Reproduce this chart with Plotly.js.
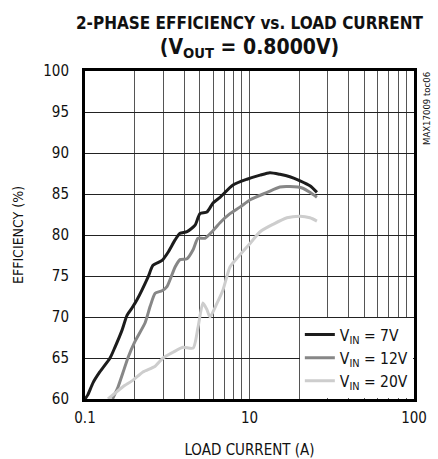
<!DOCTYPE html>
<html>
<head>
<meta charset="utf-8">
<script src="https://cdn.plot.ly/plotly-3.0.1.min.js"></script>
<style>html,body{margin:0;padding:0;background:#fff;}#chart{width:438px;height:459px;}</style>
</head>
<body>
<div id="chart"></div>
<script>
// Tick labels and positions (log axis)
const xTickVals = [1,10,100];
const xTickText = ['0.1','10','100'];
const xMinorVals = [2,3,4,5,6,7,8,9,20,30,40,50,60,70,80,90];
const yTickVals = [60,65,70,75,80,85,90,95,100];

// Series names
const seriesNames = ['V<sub>IN</sub> = 7V', 'V<sub>IN</sub> = 12V', 'V<sub>IN</sub> = 20V'];

// VIN = 7V
const v7x = [1.0,1.04,1.12,1.23,1.42,1.52,1.68,1.80,1.93,2.07,2.42,2.59,2.94,3.2,3.53,3.78,4.17,4.67,5.0,5.51,6.0,6.62,7.94,9.66,11.6,13.3,15.3,17.6,20.3,23.3,25.7];
const v7y = [60.0,60.5,62.0,63.3,65.0,66.3,68.4,70.2,71.1,72.1,74.9,76.3,76.9,77.9,79.4,80.2,80.4,81.2,82.6,82.8,83.9,84.6,86.1,86.8,87.3,87.6,87.4,87.1,86.6,86.0,85.2];

// VIN = 12V
const v12x = [1.47,1.59,1.70,1.83,2.01,2.32,2.49,2.67,2.94,3.15,3.53,3.78,4.17,4.54,4.86,5.36,5.92,6.62,7.61,8.75,10.1,12.8,15.3,17.6,21.1,23.3,25.7];
const v12y = [60.0,61.5,63.2,65.1,67.0,69.3,71.3,72.9,73.2,73.7,76.1,77.0,77.1,78.2,79.6,79.6,80.4,81.5,82.6,83.4,84.3,85.2,85.85,85.9,85.7,85.2,84.6];

// VIN = 20V
const v20x = [1.38,1.52,1.70,1.96,2.25,2.67,2.98,3.43,3.94,4.54,4.86,5.21,5.51,5.75,6.35,6.9,7.61,8.51,10.1,11.6,13.9,16.9,20.3,23.3,25.7];
const v20y = [60.0,60.7,61.5,62.3,63.3,64.0,65.0,65.7,66.3,66.2,68.7,71.7,70.9,70.0,71.7,73.3,76.1,77.3,79.0,80.4,81.3,82.1,82.3,82.1,81.7];

const narrow = '"Liberation Sans Narrow", "DejaVu Sans Condensed", Arial, sans-serif';
const colors = ['#1c1c1c', '#878787', '#cdcdcd'];

const mk = (x, y, i) => ({
  x: x, y: y, type: 'scatter', mode: 'lines', name: seriesNames[i],
  line: {color: colors[i], width: 3, shape: 'spline', smoothing: 0.6}
});

const data = [mk(v7x, v7y, 0), mk(v12x, v12y, 1), mk(v20x, v20y, 2)];

const layout = {
  width: 438, height: 459,
  margin: {l: 85, r: 24, t: 71, b: 60},
  paper_bgcolor: '#fff', plot_bgcolor: '#fff',
  font: {family: narrow, color: '#111', size: 15},
  title: {
    text: '<b><span style="font-size:17px">2-PHASE EFFICIENCY vs. LOAD CURRENT</span><br><span style="font-size:21px">(V<sub>OUT</sub> = 0.8000V)</span></b>',
    font: {family: narrow, size: 19, color: '#111'},
    xref: 'paper', x: 0.5, xanchor: 'center',
    yref: 'container', y: 0.937, yanchor: 'top'
  },
  xaxis: {
    type: 'log', range: [0, 2],
    tickmode: 'array', tickvals: xTickVals, ticktext: xTickText,
    showgrid: true, gridcolor: '#555', gridwidth: 1,
    minor: {tickmode: 'array', tickvals: xMinorVals, showgrid: true, gridcolor: '#555', gridwidth: 1, ticks: ''},
    showline: true, linecolor: '#000', linewidth: 3, mirror: true,
    ticks: '', zeroline: false, ticklabelstandoff: 3,
    tickfont: {family: narrow, size: 15, color: '#111'},
    title: {text: 'LOAD CURRENT (A)', font: {family: narrow, size: 15, color: '#111'}, standoff: 23}
  },
  yaxis: {
    range: [60, 100], tickmode: 'array', tickvals: yTickVals,
    showgrid: true, gridcolor: '#222', gridwidth: 1,
    showline: true, linecolor: '#000', linewidth: 3, mirror: true,
    ticks: '', zeroline: false, ticklabelstandoff: 10,
    tickfont: {family: narrow, size: 15, color: '#111'},
    title: {text: 'EFFICIENCY (%)', font: {family: narrow, size: 14, color: '#111'}, standoff: 17}
  },
  showlegend: true,
  legend: {
    x: 0.653, xanchor: 'left', y: 0.247, yanchor: 'top',
    bgcolor: '#fff', borderwidth: 0,
    font: {family: narrow, size: 15.5, color: '#111'},
    itemwidth: 30, tracegroupgap: 0
  },
  annotations: [{
    text: 'MAX17009 toc06', xref: 'paper', yref: 'paper',
    x: 1.0, xanchor: 'left', xshift: 5, y: 1.0, yanchor: 'top', yshift: 1,
    textangle: -90, showarrow: false,
    font: {family: narrow, size: 9.5, color: '#111'}
  }]
};

Plotly.newPlot('chart', data, layout, {displayModeBar: false, staticPlot: true});
</script>
</body>
</html>
